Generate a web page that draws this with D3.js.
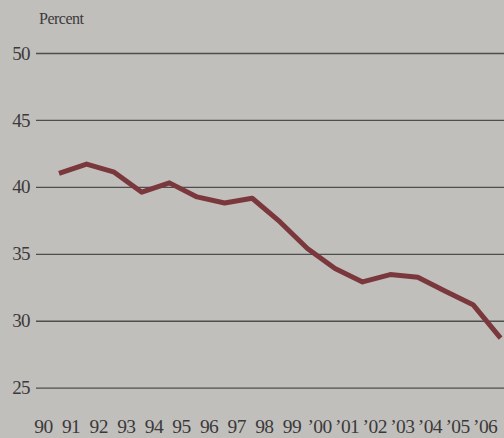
<!DOCTYPE html>
<html>
<head>
<meta charset="utf-8">
<script src="https://cdn.jsdelivr.net/npm/d3@7"></script>
<style>
  html, body { margin: 0; padding: 0; background: #c1bfbc; }
  svg { display: block; }
</style>
</head>
<body>
<div id="chart"></div>
<script>
// Chart data
const years = ["90", "91", "92", "93", "94", "95", "96", "97", "98", "99",
    "’00", "’01", "’02", "’03", "’04", "’05", "’06"];
const percent = [41.0, 41.7, 41.1, 39.6, 40.3, 39.25, 38.8, 39.15, 37.4, 35.4,
    33.9, 32.9, 33.45, 33.25, 32.2, 31.2, 28.7];
const yTicks = [25, 30, 35, 40, 45, 50];

const width = 504;
const height = 438;
const serif = "Liberation Serif, DejaVu Serif, serif";

const svg = d3.select("#chart")
    .append("svg")
    .attr("width", width)
    .attr("height", height);

// Scales
const x = d3.scalePoint()
    .domain(years)
    .range([59, 500.6]);

const y = d3.scaleLinear()
    .domain([25, 50])
    .range([387.7, 53]);

// Horizontal gridlines with labels on the left
const yAxis = d3.axisLeft(y)
    .tickValues(yTicks)
    .tickSize(0)
    .tickPadding(6);

const gy = svg.append("g")
    .attr("transform", "translate(36,0)")
    .call(yAxis)
    .attr("font-family", serif)
    .attr("font-size", 19);

gy.select(".domain").remove();
gy.selectAll(".tick line")
    .attr("x2", width - 36)
    .attr("stroke", "#4f4e4d")
    .attr("stroke-width", 1.3);
gy.selectAll(".tick text")
    .attr("letter-spacing", -0.6)
    .attr("fill", "#3b3a3a");

// Year labels along the bottom (set a little left of each point)
const xAxis = d3.axisBottom(x)
    .tickSize(0)
    .tickPadding(0);

const gx = svg.append("g")
    .attr("transform", "translate(-16,419)")
    .call(xAxis)
    .attr("font-family", serif)
    .attr("font-size", 19.5);

gx.select(".domain").remove();
gx.selectAll(".tick text")
    .attr("letter-spacing", -0.6)
    .attr("fill", "#3b3a3a");

// Axis title
svg.append("text")
    .attr("x", 39)
    .attr("y", 24)
    .attr("font-family", serif)
    .attr("font-size", 16)
    .attr("letter-spacing", -0.5)
    .attr("fill", "#3b3a3a")
    .text("Percent");

// The line
const line = d3.line()
    .x((d, i) => x(years[i]))
    .y(d => y(d));

svg.append("path")
    .datum(percent)
    .attr("d", line)
    .attr("fill", "none")
    .attr("stroke", "#7a383c")
    .attr("stroke-width", 5)
    .attr("stroke-linejoin", "round");
</script>
</body>
</html>
